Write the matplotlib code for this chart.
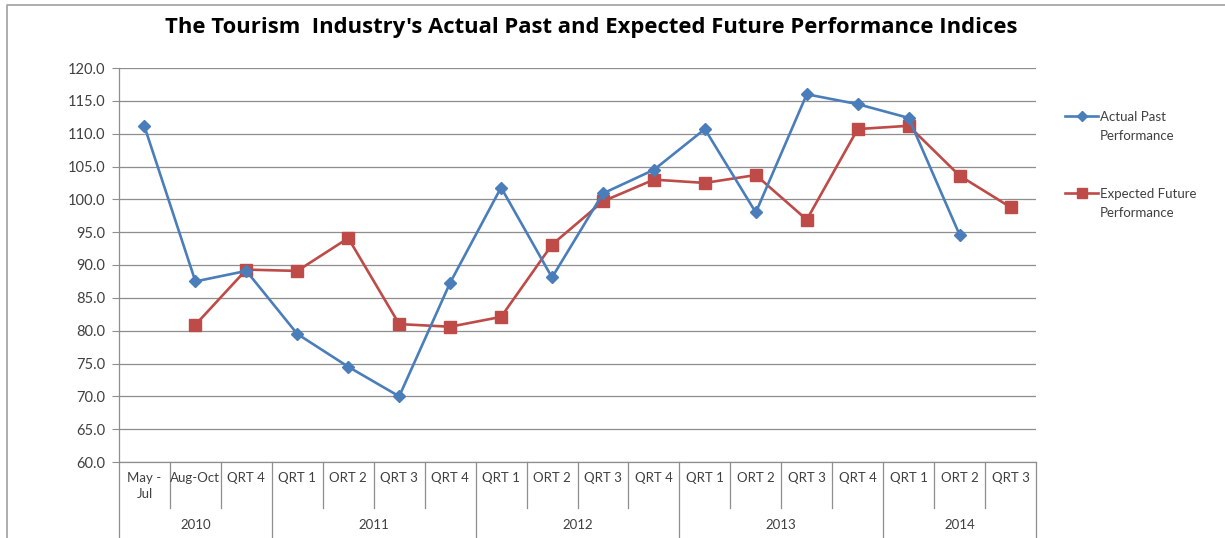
import matplotlib
matplotlib.use("Agg")
import matplotlib.pyplot as plt
from matplotlib.lines import Line2D
from matplotlib.transforms import blended_transform_factory
import numpy as np

plt.rcParams['font.family'] = ['Lato', 'DejaVu Sans']

# Period labels along the category axis and their year groups
periods = ["May -\nJul", "Aug-Oct", "QRT 4",
           "QRT 1", "ORT 2", "QRT 3", "QRT 4",
           "QRT 1", "ORT 2", "QRT 3", "QRT 4",
           "QRT 1", "ORT 2", "QRT 3", "QRT 4",
           "QRT 1", "ORT 2", "QRT 3"]
years = ["2010", "2011", "2012", "2013", "2014"]
year_sizes = [3, 4, 4, 4, 3]

# Index values (None where no value was reported)
actual_past = [111.1, 87.5, 89.1,
               79.5, 74.5, 70.0, 87.3,
               101.8, 88.1, 100.9, 104.5,
               110.7, 98.0, 116.0, 114.5,
               112.4, 94.6, None]
expected_future = [None, 80.9, 89.3,
                   89.1, 94.1, 81.0, 80.6,
                   82.1, 93.1, 99.7, 103.0,
                   102.5, 103.7, 96.9, 110.7,
                   111.2, 103.6, 98.8]

series_names = ["Actual Past\nPerformance", "Expected Future\nPerformance"]

y_ticks = np.arange(60, 121, 5)

BLUE = "#4A7EBB"
RED = "#BE4B48"
GRID = "#8E8E8E"
TEXT = "#404040"

W, H = 1225, 538
fig = plt.figure(figsize=(W / 100, H / 100), dpi=100)
ax = fig.add_axes([119 / W, 1 - 462 / H, (1036 - 119) / W, (462 - 68) / H])

x = np.arange(len(periods))
a = np.array([np.nan if v is None else v for v in actual_past], dtype=float)
e = np.array([np.nan if v is None else v for v in expected_future], dtype=float)

styles = [dict(color=BLUE, lw=1.9, marker="D", ms=5.8, mfc=BLUE, mec=BLUE),
          dict(color=RED, lw=1.9, marker="s", ms=8, mfc=RED, mec=RED)]

ax.plot(x, a, zorder=4, **styles[0])
ax.plot(x, e, zorder=3, **styles[1])

ax.set_xlim(-0.5, len(periods) - 0.5)
ax.set_ylim(60, 120)
ax.set_yticks(y_ticks)
ax.set_yticklabels([f"{v:.1f}" for v in y_ticks], fontsize=10.5, color=TEXT)
ax.tick_params(axis="y", length=5, width=0.8, color=GRID, pad=5)
ax.yaxis.grid(True, color=GRID, lw=0.9)
ax.set_axisbelow(True)
ax.set_xticks([])

for s in ["top", "right"]:
    ax.spines[s].set_visible(False)
for s in ["left", "bottom"]:
    ax.spines[s].set_color(GRID)
    ax.spines[s].set_linewidth(0.9)

# Two-level category axis drawn below the plot
trans = blended_transform_factory(ax.transData, ax.transAxes)
row_bottom = -(508 - 462) / 394
axis_bottom = -0.25
boundaries = np.cumsum(year_sizes).tolist()
for i in range(1, len(periods) + 1):
    xb = i - 0.5
    yb = axis_bottom if i in boundaries else row_bottom
    ax.add_line(Line2D([xb, xb], [0, yb], transform=trans, color=GRID, lw=0.9,
                       clip_on=False))
ax.add_line(Line2D([-0.5, -0.5], [0, axis_bottom], transform=trans, color=GRID,
                   lw=0.9, clip_on=False))

for i, lab in enumerate(periods):
    ax.text(i, -(472 - 462) / 394, lab, transform=trans, ha="center", va="top",
            fontsize=9.5, color=TEXT, linespacing=1.35)

start = 0
for yr, n in zip(years, year_sizes):
    ax.text(start + (n - 1) / 2, -(525 - 462) / 394, yr, transform=trans,
            ha="center", va="center", fontsize=9.5, color=TEXT)
    start += n

fig.text(591 / W, 1 - 27 / H,
         "The Tourism  Industry's Actual Past and Expected Future Performance Indices",
         ha="center", va="center", fontsize=15.8, fontweight="bold", color="black",
         family=["Open Sans", "DejaVu Sans"])

# Legend: short line with marker beside a two-line label
for k, (name, st) in enumerate(zip(series_names, styles)):
    yk = 116 + 77 * k
    fig.add_artist(Line2D([1065 / W, 1098 / W], [1 - yk / H, 1 - yk / H],
                          transform=fig.transFigure, color=st["color"], lw=st["lw"]))
    fig.add_artist(Line2D([1081.5 / W], [1 - yk / H], transform=fig.transFigure,
                          marker=st["marker"], ms=st["ms"] * 0.85, mfc=st["mfc"],
                          mec=st["mec"], lw=0))
    fig.text(1100 / W, 1 - (yk - 5) / H, name, ha="left", va="top", fontsize=9.5,
             color=TEXT, linespacing=1.7)

# Chart border
fig.add_artist(Line2D([7 / W, 7 / W, 1.0], [0, 1 - 5 / H, 1 - 5 / H],
                      transform=fig.transFigure, color="#A0A0A0", lw=1.2))

fig.savefig("out.png", dpi=100, facecolor="white")
